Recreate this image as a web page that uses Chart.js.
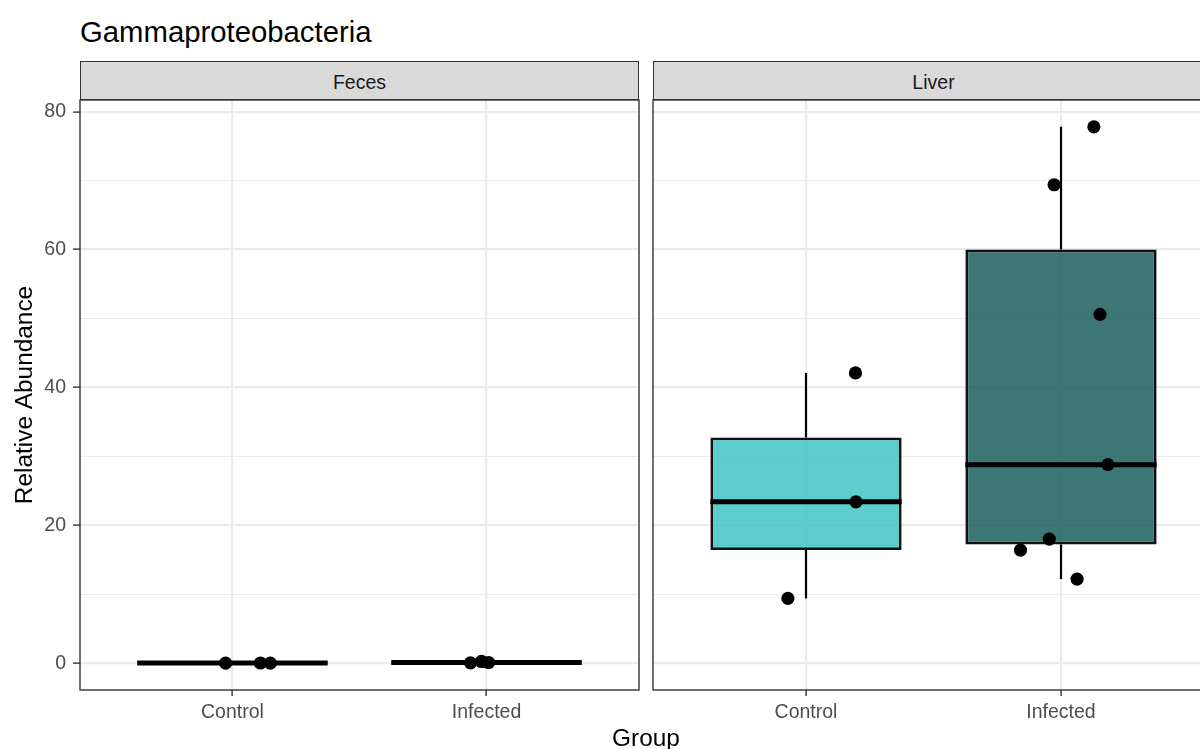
<!DOCTYPE html>
<html>
<head>
<meta charset="utf-8">
<title>Gammaproteobacteria</title>
<script src="https://cdn.jsdelivr.net/npm/chart.js@4.4.1/dist/chart.umd.min.js"></script>
<style>
  html, body { margin: 0; padding: 0; background: #fff; overflow: hidden; }
  #fig { position: relative; width: 1200px; height: 749px; overflow: hidden;
         font-family: "Liberation Sans", Arial, Helvetica, sans-serif; }
  #fig canvas { position: absolute; left: 0; top: 0; }
  .title { position: absolute; left: 80px; top: 17px; font-size: 29.3px; line-height: 30px;
           color: #000; white-space: nowrap; }
  .strip { position: absolute; top: 61px; height: 39px; box-sizing: border-box;
           background: #d9d9d9; border: 1.4px solid #333; display: flex; padding-top: 3px;
           align-items: center; justify-content: center; font-size: 19.5px; color: #1a1a1a; }
  .xtitle { position: absolute; left: 546px; width: 200px; text-align: center; top: 726px;
            font-size: 24.4px; line-height: 24.4px; color: #000; }
</style>
</head>
<body>
<div id="fig">
  <div class="title">Gammaproteobacteria</div>
  <div class="strip" style="left:80px;width:559px;">Feces</div>
  <div class="strip" style="left:653px;width:561px;">Liver</div>
  <canvas id="fecesPanel" width="1200" height="749" style="width:1200px;height:749px;"></canvas>
  <canvas id="liverPanel" width="1240" height="749" style="width:1240px;height:749px;"></canvas>
  <div class="xtitle">Group</div>
</div>
<script>
// Groups on the x axis and the two sample types (facets)
const groups = ['Control', 'Infected'];
const facets = ['Feces', 'Liver'];

// Relative abundance (%) of Gammaproteobacteria per sample
const fecesControl  = [0.01, 0.03, 0.02];
const fecesInfected = [0.05, 0.25, 0.10];
const liverControl  = [9.4, 42.1, 23.4];
const liverInfected = [77.8, 69.4, 50.6, 28.8, 18.0, 16.4, 12.2];

// Horizontal (jittered) positions of the sample points, in group units
const fecesControlX  = [0.973, 1.110, 1.149];
const fecesInfectedX = [1.937, 1.980, 2.008];
const liverControlX  = [0.929, 1.194, 1.196];
const liverInfectedX = [2.129, 1.973, 2.153, 2.184, 1.954, 1.841, 2.063];

// Y axis: labelled ticks and the unlabelled minor grid values
const yTicks = [0, 20, 40, 60, 80];
const yMinorTicks = [10, 30, 50, 70];
const yMin = -3.89;
const yMax = 81.69;

const groupFills = ['rgba(62,196,195,0.85)', 'rgba(27,95,93,0.85)'];
const FONT = '"Liberation Sans", Arial, Helvetica, sans-serif';
Chart.defaults.font.family = FONT;

// Type-7 quantile, as used by R's boxplot statistics
function quantile(sorted, p) {
  const h = (sorted.length - 1) * p;
  const lo = Math.floor(h), hi = Math.ceil(h);
  return sorted[lo] + (h - lo) * (sorted[hi] - sorted[lo]);
}
function boxStats(values) {
  const s = [...values].sort((a, b) => a - b);
  const q1 = quantile(s, 0.25), med = quantile(s, 0.5), q3 = quantile(s, 0.75);
  const iqr = q3 - q1;
  const inside = s.filter(v => v >= q1 - 1.5 * iqr && v <= q3 + 1.5 * iqr);
  return { q1, med, q3, lo: Math.min(...inside), hi: Math.max(...inside) };
}

// Frame around each panel, drawn over the boxes like a panel border
const panelFrame = {
  id: 'panelFrame',
  afterDatasetsDraw(chart) {
    const { ctx, chartArea: a } = chart;
    ctx.save();
    ctx.strokeStyle = '#333';
    ctx.lineWidth = 1.4;
    ctx.strokeRect(a.left, a.top, a.right - a.left, a.bottom - a.top);
    ctx.restore();
  }
};

function buildDatasets(samples, positions) {
  const stats = samples.map(boxStats);
  const half = 0.375;
  const whiskers = [], medians = [], points = [];
  stats.forEach((st, i) => {
    const x = i + 1;
    whiskers.push({ x, y: st.lo }, { x, y: st.q1 }, { x, y: null },
                  { x, y: st.q3 }, { x, y: st.hi }, { x, y: null });
    medians.push({ x: x - half, y: st.med }, { x: x + half, y: st.med }, { x, y: null });
  });
  samples.forEach((vals, i) => {
    vals.forEach((v, j) => points.push({ x: positions[i][j], y: v }));
  });
  return [
    {
      type: 'bar',
      data: stats.map((st, i) => ({ x: i + 1, y: [st.q1, st.q3] })),
      backgroundColor: groupFills,
      borderColor: '#111',
      borderWidth: 2.8,
      borderSkipped: false,
      barPercentage: 0.75,
      categoryPercentage: 1,
      order: 4
    },
    {
      type: 'line', data: whiskers, borderColor: '#000', borderWidth: 2.2,
      pointRadius: 0, spanGaps: false, fill: false, tension: 0, order: 3
    },
    {
      type: 'line', data: medians, borderColor: '#000', borderWidth: 5,
      borderCapStyle: 'butt', pointRadius: 0, spanGaps: false, fill: false, tension: 0, order: 2
    },
    {
      type: 'scatter', data: points, pointRadius: 6.6, pointHoverRadius: 6.6,
      backgroundColor: '#000', borderWidth: 0, order: 1
    }
  ];
}

function panelOptions(showYAxis, padding) {
  const isMajor = v => yTicks.includes(v);
  return {
    responsive: false,
    animation: false,
    events: [],
    layout: { padding },
    plugins: { legend: { display: false }, tooltip: { enabled: false } },
    scales: {
      x: {
        type: 'linear', min: 0.4, max: 2.6, offset: false,
        afterBuildTicks: s => { s.ticks = groups.map((g, i) => ({ value: i + 1 })); },
        ticks: {
          callback: v => groups[Math.round(v) - 1],
          font: { size: 19.5 }, color: '#4d4d4d', padding: 5,
          autoSkip: false, maxRotation: 0
        },
        grid: { color: '#ebebeb', lineWidth: 2.2, tickColor: '#333', tickLength: 6,
                tickWidth: 1.4, offset: false },
        border: { display: false },
        afterFit: s => { s.height = 59; }
      },
      y: {
        type: 'linear', min: yMin, max: yMax,
        afterBuildTicks: s => {
          s.ticks = [...yTicks, ...yMinorTicks].sort((a, b) => a - b).map(v => ({ value: v }));
        },
        ticks: {
          display: showYAxis,
          callback: v => (isMajor(v) ? String(v) : ''),
          font: { size: 19.5 }, color: '#4d4d4d', padding: 7, autoSkip: false
        },
        grid: {
          color: '#ebebeb',
          lineWidth: c => (c.tick && isMajor(c.tick.value) ? 2.2 : 1.1),
          drawTicks: showYAxis,
          tickColor: c => (c.tick && isMajor(c.tick.value) ? '#333' : 'rgba(0,0,0,0)'),
          tickLength: 7, tickWidth: 1.4
        },
        border: { display: false },
        title: {
          display: showYAxis, text: 'Relative Abundance',
          font: { size: 24.4 }, color: '#000', padding: { top: 11, bottom: 0 }
        },
        afterFit: s => { s.width = showYAxis ? 80 : 0; }
      }
    }
  };
}

new Chart(document.getElementById('fecesPanel'), {
  type: 'scatter',
  data: { datasets: buildDatasets([fecesControl, fecesInfected], [fecesControlX, fecesInfectedX]) },
  options: panelOptions(true, { left: 0, top: 100, right: 561, bottom: 0 }),
  plugins: [panelFrame]
});

new Chart(document.getElementById('liverPanel'), {
  type: 'scatter',
  data: { datasets: buildDatasets([liverControl, liverInfected], [liverControlX, liverInfectedX]) },
  options: panelOptions(false, { left: 653, top: 100, right: 26, bottom: 0 }),
  plugins: [panelFrame]
});
</script>
</body>
</html>
